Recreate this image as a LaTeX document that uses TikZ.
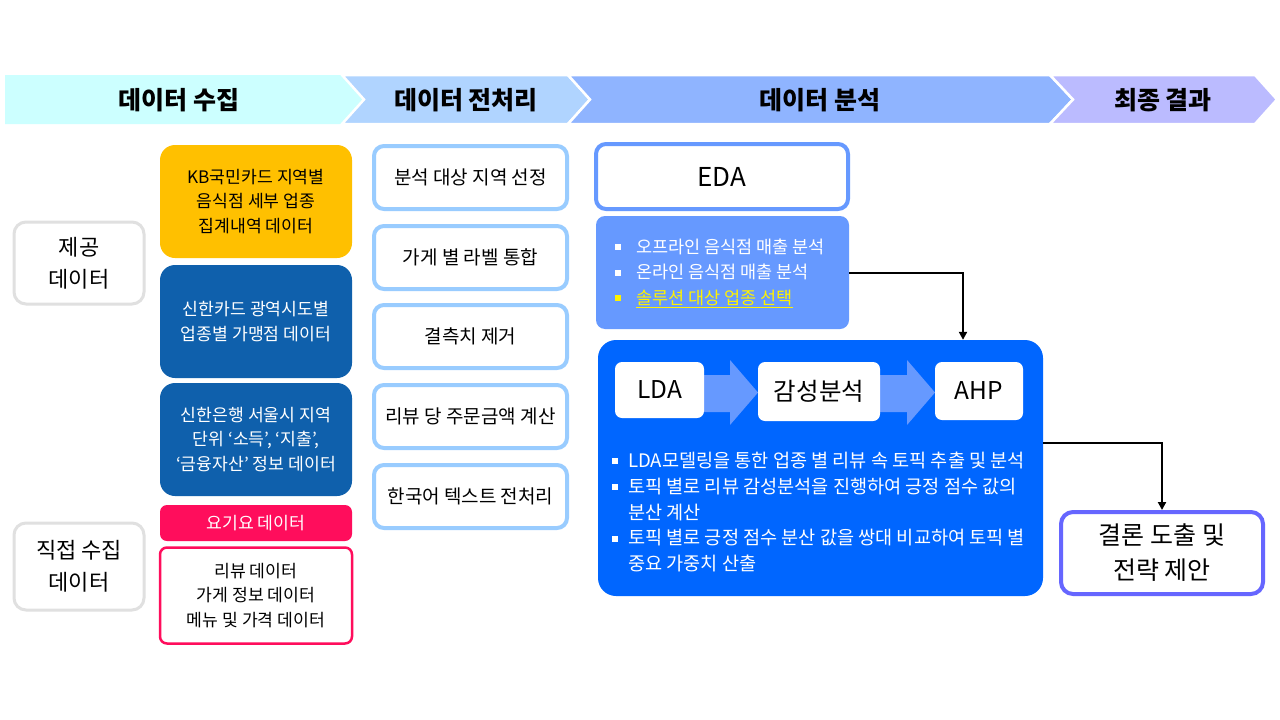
\documentclass[tikz,border=0pt]{standalone}
\usepackage{fontspec}
\setmainfont{Noto Sans CJK KR}
\usetikzlibrary{arrows.meta}
\newcommand\myfs[2]{\fontsize{#1}{#2}\selectfont}
\definecolor{headA}{HTML}{CCFFFF}
\definecolor{headB}{HTML}{B0D4FF}
\definecolor{headC}{HTML}{8FB4FF}
\definecolor{headD}{HTML}{BBBBFF}
\definecolor{lgray}{HTML}{E0E0E0}
\definecolor{kbyel}{HTML}{FFC000}
\definecolor{shblue}{HTML}{0F60AC}
\definecolor{ypink}{HTML}{FF0D5C}
\definecolor{prebl}{HTML}{99CCFF}
\definecolor{edabl}{HTML}{6699FF}
\definecolor{bigbl}{HTML}{0066FF}
\definecolor{finbl}{HTML}{6666FF}
\tikzset{
  box/.style={rectangle, inner sep=0pt, align=center},
  lblbox/.style={box, draw=lgray, line width=3pt, fill=white, rounded corners=12pt,
    minimum width=130pt, font=\myfs{22}{32}},
  colone/.style={box, rounded corners=15pt, minimum width=192pt, font=\myfs{17.2}{24.5}},
  prebox/.style={box, draw=prebl, line width=4pt, fill=white, rounded corners=10pt,
    minimum width=193pt, minimum height=63pt, font=\myfs{19}{24}},
  whitebox/.style={box, fill=white, rounded corners=7pt, font=\myfs{24.5}{28}},
  conn/.style={draw=black, line width=2pt, -{Triangle[length=8pt,width=8pt]}},
  chev/.style={draw=white, line width=2.5pt},
  headtxt/.style={font=\myfs{25}{28}\bfseries},
  blockarrow/.style={fill=edabl},
}
\newcommand\wbul{\makebox[21pt][l]{\raisebox{3pt}{\rule{6pt}{6pt}}}}
\newcommand\sbul{\makebox[16pt][l]{\raisebox{3pt}{\rule{6pt}{6pt}}}}
\begin{document}
\begin{tikzpicture}[x=1pt,y=-1pt]
\useasboundingbox[fill=white] (0,0) rectangle (1280,720);
% header chevrons
\fill[headA] (5,75) -- (342,75) -- (364,99.5) -- (342,124) -- (5,124) -- cycle;
\path[chev, fill=headB] (342,75) -- (568,75) -- (590,99.5) -- (568,124) -- (342,124) -- (364,99.5) -- cycle;
\path[chev, fill=headC] (568,75) -- (1050,75) -- (1073,99.5) -- (1050,124) -- (568,124) -- (590,99.5) -- cycle;
\path[chev, fill=headD] (1050,75) -- (1255,75) -- (1277,99.5) -- (1255,124) -- (1050,124) -- (1073,99.5) -- cycle;
\node[headtxt] (h1) at (179,100) {데이터 수집};
\node[headtxt] (h2) at (466,100) {데이터 전처리};
\node[headtxt] (h3) at (820,100) {데이터 분석};
\node[headtxt] (h4) at (1163,100) {최종 결과};
% left labels
\node[lblbox, minimum height=82pt] (prov) at (79,263) {제공\\데이터};
\node[lblbox, minimum height=87pt] (direct) at (79,566.5) {직접 수집\\데이터};
% column 1
\node[colone, fill=kbyel, minimum height=113pt] (kb) at (256,201.5) {KB국민카드 지역별\\음식점 세부 업종\\집계내역 데이터};
\node[colone, fill=shblue, text=white, minimum height=113pt] (shc) at (256,321.5) {신한카드 광역시도별\\업종별 가맹점 데이터};
\node[colone, fill=shblue, text=white, minimum height=113pt] (shb) at (256,439.5) {신한은행 서울시 지역\\단위 ‘소득’, ‘지출’,\\‘금융자산’ 정보 데이터};
\node[colone, fill=ypink, text=white, rounded corners=7pt, minimum height=36pt] (yogi) at (256,523) {요기요 데이터};
\node[colone, draw=ypink, line width=2.5pt, fill=white, rounded corners=7pt, minimum width=192pt, minimum height=96pt] (rev) at (256,595.5) {리뷰 데이터\\가게 정보 데이터\\메뉴 및 가격 데이터};
% column 2
\node[prebox] (p1) at (470.5,177.5) {분석 대상 지역 선정};
\node[prebox] (p2) at (470.5,257.5) {가게 별 라벨 통합};
\node[prebox] (p3) at (470.5,336.5) {결측치 제거};
\node[prebox] (p4) at (470.5,416.5) {리뷰 당 주문금액 계산};
\node[prebox] (p5) at (470.5,496.5) {한국어 텍스트 전처리};
% column 3
\node[box, draw=edabl, line width=4pt, fill=white, rounded corners=10pt, minimum width=252pt, minimum height=65pt, font=\myfs{26}{30}] (eda) at (722,176.5) {EDA};
\node[box, fill=edabl, rounded corners=9pt, minimum width=253pt, minimum height=113pt] (edab) at (722.5,272.5) {};
\node[box, anchor=west, text=white, align=left, font=\myfs{17.5}{25.5}] (edat) at (615,273)
  {\wbul 오프라인 음식점 매출 분석\\
   \wbul 온라인 음식점 매출 분석\\
   \textcolor{yellow}{\wbul\underline{솔루션 대상 업종 선택}}};
\node[box, fill=bigbl, rounded corners=18pt, minimum width=445pt, minimum height=256pt] (big) at (820.5,468) {};
\fill[blockarrow] (703,375) -- (730,375) -- (730,360) -- (758,392.5) -- (730,425) -- (730,412) -- (703,412) -- cycle;
\fill[blockarrow] (880,375) -- (907,375) -- (907,360) -- (935,392.5) -- (907,425) -- (907,412) -- (880,412) -- cycle;
\node[whitebox, minimum width=89pt, minimum height=56pt] (lda) at (659.5,390) {LDA};
\node[whitebox, minimum width=122pt, minimum height=59pt] (sent) at (819,391.5) {감성분석};
\node[whitebox, minimum width=88pt, minimum height=58pt] (ahp) at (979,391) {AHP};
\node[box, anchor=west, text=white, align=left, font=\myfs{18.6}{25.8}] (bigt) at (612,512)
  {\sbul LDA모델링을 통한 업종 별 리뷰 속 토픽 추출 및 분석\\
   \sbul 토픽 별로 리뷰 감성분석을 진행하여 긍정 점수 값의\\
   \hspace*{16pt}분산 계산\\
   \sbul 토픽 별로 긍정 점수 분산 값을 쌍대 비교하여 토픽 별\\
   \hspace*{16pt}중요 가중치 산출};
% final
\node[box, draw=finbl, line width=4pt, fill=white, rounded corners=12pt, minimum width=202pt, minimum height=82pt, font=\myfs{25}{35}] (final) at (1162,553) {결론 도출 및\\전략 제안};
% connectors
\draw[conn] (edab.east) -| ([xshift=142.5pt]big.north);
\draw[conn] ([yshift=25pt]big.east) -| (final.north);
\end{tikzpicture}
\end{document}
